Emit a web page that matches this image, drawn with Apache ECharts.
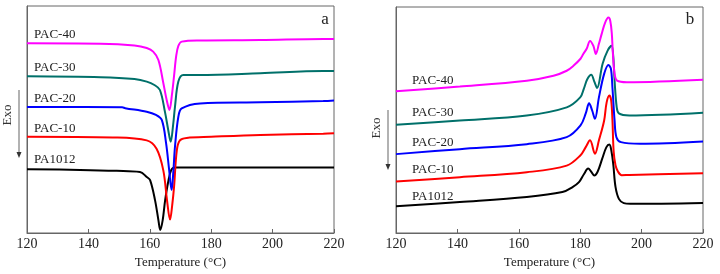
<!DOCTYPE html>
<html>
<head>
<meta charset="utf-8">
<script src="https://cdn.jsdelivr.net/npm/echarts@6/dist/echarts.min.js"></script>
<style>
html,body{margin:0;padding:0;background:#fff;}
#main{width:720px;height:274px;}
</style>
</head>
<body>
<div id="main"></div>
<script>
// temperature ticks (°C)
var tempTicks = [120, 140, 160, 180, 200, 220];
var names = ['PAC-40', 'PAC-30', 'PAC-20', 'PAC-10', 'PA1012'];

// panel a: cooling curves [T, heat flow (a.u.)]
var aPAC40 = [[120,83.6],[144,83.4],[155,82.6],[159,81.5],[161.1,79.9],[162.8,76.2],[164.4,66.1],[165.5,58.6],[166.4,54.2],[167.2,60.8],[167.9,69.2],[168.6,78.0],[169.3,82.4],[170.4,84.3],[176.4,84.8],[196,85.0],[216.5,85.5],[220,85.5]];
var aPAC30 = [[120,69.0],[144,68.6],[155,67.8],[159,66.7],[161.5,65.2],[163.3,63.0],[165,52.9],[166,45.4],[166.8,40.2],[167.6,47.6],[168.2,55.6],[169.3,66.7],[170.9,69.6],[176,69.6],[196,70.4],[216.5,71.4],[220,71.4]];
var aPAC20 = [[120,55.5],[151,55.4],[152,55.0],[159,53.4],[162,52.0],[163.9,49.8],[165.3,39.6],[166.3,27.8],[167.1,18.9],[167.7,27.8],[168.2,38.0],[169.3,51.2],[170.4,54.9],[176.4,57.1],[196,57.6],[216.5,58.1],[220,58.4]];
var aPAC10 = [[120,42.4],[148,42.1],[159,40.8],[162.2,37.1],[164.4,27.6],[165.6,14.5],[166.6,5.9],[167.3,12.3],[167.9,20.3],[168.8,36.4],[169.8,40.8],[172,41.9],[180,42.4],[196,43.2],[216.5,43.7],[220,43.9]];
var aPA1012 = [[120,28.1],[137.3,27.8],[149.2,27.4],[156.8,26.9],[159,24.7],[160.1,23.3],[161.7,14.5],[162.8,5.7],[163.4,1.3],[164.2,5.7],[165,14.5],[166,22.6],[167,27.8],[168.2,28.9],[220,28.9]];

// panel b: heating curves [T, heat flow (a.u.)]
var bPAC40 = [[120,62.7],[140.8,64.8],[162.6,67.4],[171.3,69.6],[175.6,71.8],[177.8,74.0],[180.1,77.1],[181,79.2],[182.1,81.5],[183.2,85.0],[184.3,82.8],[185.1,79.2],[186.1,83.7],[187,88.1],[188.1,93.0],[189.2,95.3],[189.8,93.8],[190.3,88.1],[190.6,80.6],[191.2,70.5],[192,67.4],[195.2,66.7],[220,67.8]];
var bPAC30 = [[120,47.9],[140.8,49.8],[162.6,52.0],[175.6,55.6],[180,60.0],[181.2,63.9],[182.3,68.0],[183.6,70.0],[184.6,67.0],[185.5,64.2],[187.3,74.9],[188.9,80.6],[190.2,82.8],[190.8,77.5],[191.2,67.4],[191.9,55.6],[192.6,52.9],[196,52.0],[220,53.2]];
var bPAC20 = [[120,34.9],[140.8,37.1],[162.6,39.3],[175.6,42.4],[180.1,47.6],[181.8,52.9],[182.9,57.4],[183.9,54.2],[184.8,50.5],[186.1,60.0],[187.8,70.4],[189.2,74.3],[190,72.7],[190.5,64.4],[191.2,49.8],[191.8,42.4],[193.3,40.2],[199.5,39.5],[220,40.5]];
var bPAC10 = [[120,22.8],[140.8,24.7],[162.6,26.9],[175.6,29.8],[180.1,34.4],[181.8,38.0],[183.2,41.0],[184.8,35.1],[186.1,41.0],[187.8,49.8],[188.6,57.7],[189.5,60.8],[190.1,58.6],[190.5,50.0],[190.9,36.0],[191.5,30.0],[192.3,27.2],[193.5,25.6],[196,25.7],[220,26.4]];
var bPA1012 = [[120,11.8],[140.8,13.7],[162.6,15.9],[174.2,18.1],[177.5,20.3],[179.6,22.5],[181.2,26.0],[182.6,28.5],[183.5,27.3],[184.6,25.4],[185.7,27.2],[187.2,33.0],[188.5,37.9],[189.5,39.2],[190.2,36.0],[190.8,30.0],[191.5,20.4],[192.6,15.1],[194.2,13.2],[196.3,12.9],[220,13.3]];

var colors = ['#ff00ff', '#00706a', '#0000ff', '#ff0000', '#000000'];
var serif = '"Liberation Serif", "DejaVu Serif", serif';

var chart = echarts.init(document.getElementById('main'));

function xAx(idx) {
    return {
        type: 'value', gridIndex: idx, min: 120, max: 220, interval: 20,
        name: 'Temperature (°C)', nameLocation: 'middle', nameGap: 20,
        nameTextStyle: {fontFamily: serif, fontSize: 13, color: '#222'},
        axisLine: {lineStyle: {color: '#666', width: 1}},
        axisTick: {inside: true, length: 4, lineStyle: {color: '#666'}},
        axisLabel: {fontFamily: serif, fontSize: 14, color: '#222', margin: 4},
        splitLine: {show: false}
    };
}
function yAx(idx) {
    return {
        type: 'value', gridIndex: idx, min: 0, max: 100,
        axisLine: {show: true, lineStyle: {color: '#666', width: 1}},
        axisTick: {show: false}, axisLabel: {show: false}, splitLine: {show: false}
    };
}
function line(name, data, color, idx) {
    return {
        name: name, type: 'line', xAxisIndex: idx, yAxisIndex: idx,
        data: data, symbol: 'none', smooth: 0.35,
        lineStyle: {color: color, width: 2}, itemStyle: {color: color},
        animation: false
    };
}

var series = [];
[aPA1012, aPAC10, aPAC30, aPAC20, aPAC40].forEach(function (d, i) {
    var k = [4, 3, 1, 2, 0][i];
    series.push(line(names[k], d, colors[k], 0));
});
[bPA1012, bPAC10, bPAC20, bPAC30, bPAC40].forEach(function (d, i) {
    var k = 4 - i;
    series.push(line(names[k], d, colors[k], 1));
});

var labelA = [35, 68, 99, 129, 160];
var labelB = [81, 113, 143, 170, 197];
var graphics = [];
names.forEach(function (n, i) {
    graphics.push({type: 'text', x: 34, y: labelA[i], style: {text: n, font: '13px ' + serif, fill: '#222', verticalAlign: 'middle'}});
    graphics.push({type: 'text', x: 412, y: labelB[i], style: {text: n, font: '13px ' + serif, fill: '#222', verticalAlign: 'middle'}});
});
function exo(x, y0, y1, tx, ty) {
    graphics.push({type: 'line', shape: {x1: x, y1: y0, x2: x, y2: y1 - 5}, style: {stroke: '#999', lineWidth: 1.5}});
    graphics.push({type: 'polygon', shape: {points: [[x - 2.5, y1 - 6], [x + 2.5, y1 - 6], [x, y1]]}, style: {fill: '#333'}});
    graphics.push({type: 'text', x: tx, y: ty, rotation: Math.PI / 2, style: {text: 'Exo', font: '13px ' + serif, fill: '#333', align: 'center', verticalAlign: 'middle'}});
}
exo(19, 90, 158, 8, 115);
exo(388, 110, 170, 377, 128);
graphics.push({type: 'text', x: 325, y: 20, style: {text: 'a', font: '17px ' + serif, fill: '#222', align: 'center', verticalAlign: 'middle'}});
graphics.push({type: 'text', x: 690, y: 20, style: {text: 'b', font: '17px ' + serif, fill: '#222', align: 'center', verticalAlign: 'middle'}});

option = {
    backgroundColor: '#fff',
    animation: false,
    grid: [
        {left: 27, right: 386, top: 6, bottom: 41, show: true, borderColor: '#666', borderWidth: 1},
        {left: 396, right: 17, top: 7, bottom: 41, show: true, borderColor: '#666', borderWidth: 1}
    ],
    xAxis: [xAx(0), xAx(1)],
    yAxis: [yAx(0), yAx(1)],
    series: series,
    graphic: graphics
};
chart.setOption(option);
</script>
</body>
</html>
